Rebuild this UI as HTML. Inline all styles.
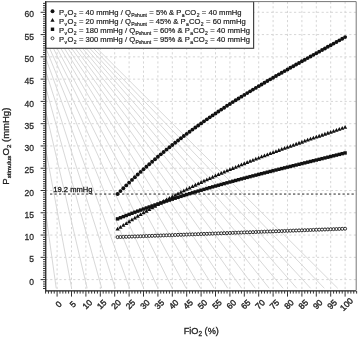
<!DOCTYPE html><html><head><meta charset="utf-8"><style>html,body{margin:0;padding:0;background:#fff;width:358px;height:337px;overflow:hidden}svg{display:block;will-change:transform}text{font-family:"Liberation Sans",sans-serif;stroke-width:.3px}</style></head><body>
<svg width="358" height="337" viewBox="0 0 358 337">
<rect width="358" height="337" fill="#fff"/>
<defs><clipPath id="pc"><rect x="45.6" y="1.6" width="310.59999999999997" height="288.79999999999995"/></clipPath></defs>
<path d="M57.10 1.6V290.4 M71.50 1.6V290.4 M85.90 1.6V290.4 M100.30 1.6V290.4 M114.70 1.6V290.4 M129.10 1.6V290.4 M143.50 1.6V290.4 M157.90 1.6V290.4 M172.30 1.6V290.4 M186.70 1.6V290.4 M201.10 1.6V290.4 M215.50 1.6V290.4 M229.90 1.6V290.4 M244.30 1.6V290.4 M258.70 1.6V290.4 M273.10 1.6V290.4 M287.50 1.6V290.4 M301.90 1.6V290.4 M316.30 1.6V290.4 M330.70 1.6V290.4 M345.10 1.6V290.4 M45.6 279.60H356.2 M45.6 257.33H356.2 M45.6 235.05H356.2 M45.6 212.78H356.2 M45.6 190.50H356.2 M45.6 168.23H356.2 M45.6 145.95H356.2 M45.6 123.68H356.2 M45.6 101.40H356.2 M45.6 79.13H356.2 M45.6 56.85H356.2 M45.6 34.58H356.2 M45.6 12.30H356.2" stroke="#d6d6d6" stroke-width="1" stroke-dasharray="2.2 2.4" fill="none"/>
<g clip-path="url(#pc)"><path d="M10.9 -37.4L56.21 288.3 M10.9 -37.4L71.62 288.3 M10.9 -37.4L87.14 288.3 M10.9 -37.4L101.73 288.3 M10.9 -37.4L115.29 288.3 M10.9 -37.4L129.67 288.3 M10.9 -37.4L143.75 288.3 M10.9 -37.4L157.93 288.3 M10.9 -37.4L172.31 288.3 M10.9 -37.4L186.18 288.3 M10.9 -37.4L200.57 288.3 M10.9 -37.4L214.13 288.3 M10.9 -37.4L227.79 288.3 M10.9 -37.4L241.66 288.3 M10.9 -37.4L255.23 288.3 M10.9 -37.4L269.20 288.3 M10.9 -37.4L283.07 288.3 M10.9 -37.4L296.84 288.3 M10.9 -37.4L310.61 288.3 M10.9 -37.4L324.37 288.3 M10.9 -37.4L337.73 288.3" stroke="#d6d6d6" stroke-width="0.95" fill="none"/></g>
<path d="M50.0 194.06H356.2" stroke="#262626" stroke-width="1" stroke-dasharray="2.3 2.2" fill="none"/>
<text x="53.3" y="191.6" font-size="7.6" fill="#222" stroke="#222">19.2 mmHg</text>
<circle cx="117.58" cy="237.10" r="1.5" fill="#fff" stroke="#222" stroke-width="0.95"/><circle cx="120.46" cy="236.99" r="1.5" fill="#fff" stroke="#222" stroke-width="0.95"/><circle cx="123.34" cy="236.89" r="1.5" fill="#fff" stroke="#222" stroke-width="0.95"/><circle cx="126.22" cy="236.78" r="1.5" fill="#fff" stroke="#222" stroke-width="0.95"/><circle cx="129.10" cy="236.68" r="1.5" fill="#fff" stroke="#222" stroke-width="0.95"/><circle cx="131.98" cy="236.57" r="1.5" fill="#fff" stroke="#222" stroke-width="0.95"/><circle cx="134.86" cy="236.46" r="1.5" fill="#fff" stroke="#222" stroke-width="0.95"/><circle cx="137.74" cy="236.36" r="1.5" fill="#fff" stroke="#222" stroke-width="0.95"/><circle cx="140.62" cy="236.25" r="1.5" fill="#fff" stroke="#222" stroke-width="0.95"/><circle cx="143.50" cy="236.15" r="1.5" fill="#fff" stroke="#222" stroke-width="0.95"/><circle cx="146.38" cy="236.04" r="1.5" fill="#fff" stroke="#222" stroke-width="0.95"/><circle cx="149.26" cy="235.93" r="1.5" fill="#fff" stroke="#222" stroke-width="0.95"/><circle cx="152.14" cy="235.83" r="1.5" fill="#fff" stroke="#222" stroke-width="0.95"/><circle cx="155.02" cy="235.72" r="1.5" fill="#fff" stroke="#222" stroke-width="0.95"/><circle cx="157.90" cy="235.62" r="1.5" fill="#fff" stroke="#222" stroke-width="0.95"/><circle cx="160.78" cy="235.51" r="1.5" fill="#fff" stroke="#222" stroke-width="0.95"/><circle cx="163.66" cy="235.40" r="1.5" fill="#fff" stroke="#222" stroke-width="0.95"/><circle cx="166.54" cy="235.30" r="1.5" fill="#fff" stroke="#222" stroke-width="0.95"/><circle cx="169.42" cy="235.19" r="1.5" fill="#fff" stroke="#222" stroke-width="0.95"/><circle cx="172.30" cy="235.09" r="1.5" fill="#fff" stroke="#222" stroke-width="0.95"/><circle cx="175.18" cy="234.98" r="1.5" fill="#fff" stroke="#222" stroke-width="0.95"/><circle cx="178.06" cy="234.87" r="1.5" fill="#fff" stroke="#222" stroke-width="0.95"/><circle cx="180.94" cy="234.77" r="1.5" fill="#fff" stroke="#222" stroke-width="0.95"/><circle cx="183.82" cy="234.66" r="1.5" fill="#fff" stroke="#222" stroke-width="0.95"/><circle cx="186.70" cy="234.56" r="1.5" fill="#fff" stroke="#222" stroke-width="0.95"/><circle cx="189.58" cy="234.45" r="1.5" fill="#fff" stroke="#222" stroke-width="0.95"/><circle cx="192.46" cy="234.34" r="1.5" fill="#fff" stroke="#222" stroke-width="0.95"/><circle cx="195.34" cy="234.24" r="1.5" fill="#fff" stroke="#222" stroke-width="0.95"/><circle cx="198.22" cy="234.13" r="1.5" fill="#fff" stroke="#222" stroke-width="0.95"/><circle cx="201.10" cy="234.03" r="1.5" fill="#fff" stroke="#222" stroke-width="0.95"/><circle cx="203.98" cy="233.92" r="1.5" fill="#fff" stroke="#222" stroke-width="0.95"/><circle cx="206.86" cy="233.81" r="1.5" fill="#fff" stroke="#222" stroke-width="0.95"/><circle cx="209.74" cy="233.71" r="1.5" fill="#fff" stroke="#222" stroke-width="0.95"/><circle cx="212.62" cy="233.60" r="1.5" fill="#fff" stroke="#222" stroke-width="0.95"/><circle cx="215.50" cy="233.50" r="1.5" fill="#fff" stroke="#222" stroke-width="0.95"/><circle cx="218.38" cy="233.39" r="1.5" fill="#fff" stroke="#222" stroke-width="0.95"/><circle cx="221.26" cy="233.28" r="1.5" fill="#fff" stroke="#222" stroke-width="0.95"/><circle cx="224.14" cy="233.18" r="1.5" fill="#fff" stroke="#222" stroke-width="0.95"/><circle cx="227.02" cy="233.07" r="1.5" fill="#fff" stroke="#222" stroke-width="0.95"/><circle cx="229.90" cy="232.97" r="1.5" fill="#fff" stroke="#222" stroke-width="0.95"/><circle cx="232.78" cy="232.86" r="1.5" fill="#fff" stroke="#222" stroke-width="0.95"/><circle cx="235.66" cy="232.75" r="1.5" fill="#fff" stroke="#222" stroke-width="0.95"/><circle cx="238.54" cy="232.65" r="1.5" fill="#fff" stroke="#222" stroke-width="0.95"/><circle cx="241.42" cy="232.54" r="1.5" fill="#fff" stroke="#222" stroke-width="0.95"/><circle cx="244.30" cy="232.43" r="1.5" fill="#fff" stroke="#222" stroke-width="0.95"/><circle cx="247.18" cy="232.33" r="1.5" fill="#fff" stroke="#222" stroke-width="0.95"/><circle cx="250.06" cy="232.22" r="1.5" fill="#fff" stroke="#222" stroke-width="0.95"/><circle cx="252.94" cy="232.12" r="1.5" fill="#fff" stroke="#222" stroke-width="0.95"/><circle cx="255.82" cy="232.01" r="1.5" fill="#fff" stroke="#222" stroke-width="0.95"/><circle cx="258.70" cy="231.90" r="1.5" fill="#fff" stroke="#222" stroke-width="0.95"/><circle cx="261.58" cy="231.80" r="1.5" fill="#fff" stroke="#222" stroke-width="0.95"/><circle cx="264.46" cy="231.69" r="1.5" fill="#fff" stroke="#222" stroke-width="0.95"/><circle cx="267.34" cy="231.59" r="1.5" fill="#fff" stroke="#222" stroke-width="0.95"/><circle cx="270.22" cy="231.48" r="1.5" fill="#fff" stroke="#222" stroke-width="0.95"/><circle cx="273.10" cy="231.37" r="1.5" fill="#fff" stroke="#222" stroke-width="0.95"/><circle cx="275.98" cy="231.27" r="1.5" fill="#fff" stroke="#222" stroke-width="0.95"/><circle cx="278.86" cy="231.16" r="1.5" fill="#fff" stroke="#222" stroke-width="0.95"/><circle cx="281.74" cy="231.06" r="1.5" fill="#fff" stroke="#222" stroke-width="0.95"/><circle cx="284.62" cy="230.95" r="1.5" fill="#fff" stroke="#222" stroke-width="0.95"/><circle cx="287.50" cy="230.84" r="1.5" fill="#fff" stroke="#222" stroke-width="0.95"/><circle cx="290.38" cy="230.74" r="1.5" fill="#fff" stroke="#222" stroke-width="0.95"/><circle cx="293.26" cy="230.63" r="1.5" fill="#fff" stroke="#222" stroke-width="0.95"/><circle cx="296.14" cy="230.53" r="1.5" fill="#fff" stroke="#222" stroke-width="0.95"/><circle cx="299.02" cy="230.42" r="1.5" fill="#fff" stroke="#222" stroke-width="0.95"/><circle cx="301.90" cy="230.31" r="1.5" fill="#fff" stroke="#222" stroke-width="0.95"/><circle cx="304.78" cy="230.21" r="1.5" fill="#fff" stroke="#222" stroke-width="0.95"/><circle cx="307.66" cy="230.10" r="1.5" fill="#fff" stroke="#222" stroke-width="0.95"/><circle cx="310.54" cy="230.00" r="1.5" fill="#fff" stroke="#222" stroke-width="0.95"/><circle cx="313.42" cy="229.89" r="1.5" fill="#fff" stroke="#222" stroke-width="0.95"/><circle cx="316.30" cy="229.78" r="1.5" fill="#fff" stroke="#222" stroke-width="0.95"/><circle cx="319.18" cy="229.68" r="1.5" fill="#fff" stroke="#222" stroke-width="0.95"/><circle cx="322.06" cy="229.57" r="1.5" fill="#fff" stroke="#222" stroke-width="0.95"/><circle cx="324.94" cy="229.47" r="1.5" fill="#fff" stroke="#222" stroke-width="0.95"/><circle cx="327.82" cy="229.36" r="1.5" fill="#fff" stroke="#222" stroke-width="0.95"/><circle cx="330.70" cy="229.25" r="1.5" fill="#fff" stroke="#222" stroke-width="0.95"/><circle cx="333.58" cy="229.15" r="1.5" fill="#fff" stroke="#222" stroke-width="0.95"/><circle cx="336.46" cy="229.04" r="1.5" fill="#fff" stroke="#222" stroke-width="0.95"/><circle cx="339.34" cy="228.94" r="1.5" fill="#fff" stroke="#222" stroke-width="0.95"/><circle cx="342.22" cy="228.83" r="1.5" fill="#fff" stroke="#222" stroke-width="0.95"/><circle cx="345.10" cy="228.72" r="1.5" fill="#fff" stroke="#222" stroke-width="0.95"/><rect x="115.88" y="217.19" width="3.4" height="3.4" fill="#111"/><rect x="118.76" y="216.05" width="3.4" height="3.4" fill="#111"/><rect x="121.64" y="214.92" width="3.4" height="3.4" fill="#111"/><rect x="124.52" y="213.80" width="3.4" height="3.4" fill="#111"/><rect x="127.40" y="212.69" width="3.4" height="3.4" fill="#111"/><rect x="130.28" y="211.59" width="3.4" height="3.4" fill="#111"/><rect x="133.16" y="210.51" width="3.4" height="3.4" fill="#111"/><rect x="136.04" y="209.44" width="3.4" height="3.4" fill="#111"/><rect x="138.92" y="208.38" width="3.4" height="3.4" fill="#111"/><rect x="141.80" y="207.33" width="3.4" height="3.4" fill="#111"/><rect x="144.68" y="206.30" width="3.4" height="3.4" fill="#111"/><rect x="147.56" y="205.27" width="3.4" height="3.4" fill="#111"/><rect x="150.44" y="204.26" width="3.4" height="3.4" fill="#111"/><rect x="153.32" y="203.26" width="3.4" height="3.4" fill="#111"/><rect x="156.20" y="202.26" width="3.4" height="3.4" fill="#111"/><rect x="159.08" y="201.28" width="3.4" height="3.4" fill="#111"/><rect x="161.96" y="200.31" width="3.4" height="3.4" fill="#111"/><rect x="164.84" y="199.35" width="3.4" height="3.4" fill="#111"/><rect x="167.72" y="198.40" width="3.4" height="3.4" fill="#111"/><rect x="170.60" y="197.45" width="3.4" height="3.4" fill="#111"/><rect x="173.48" y="196.52" width="3.4" height="3.4" fill="#111"/><rect x="176.36" y="195.60" width="3.4" height="3.4" fill="#111"/><rect x="179.24" y="194.68" width="3.4" height="3.4" fill="#111"/><rect x="182.12" y="193.78" width="3.4" height="3.4" fill="#111"/><rect x="185.00" y="192.88" width="3.4" height="3.4" fill="#111"/><rect x="187.88" y="191.99" width="3.4" height="3.4" fill="#111"/><rect x="190.76" y="191.11" width="3.4" height="3.4" fill="#111"/><rect x="193.64" y="190.24" width="3.4" height="3.4" fill="#111"/><rect x="196.52" y="189.37" width="3.4" height="3.4" fill="#111"/><rect x="199.40" y="188.52" width="3.4" height="3.4" fill="#111"/><rect x="202.28" y="187.67" width="3.4" height="3.4" fill="#111"/><rect x="205.16" y="186.82" width="3.4" height="3.4" fill="#111"/><rect x="208.04" y="185.99" width="3.4" height="3.4" fill="#111"/><rect x="210.92" y="185.16" width="3.4" height="3.4" fill="#111"/><rect x="213.80" y="184.34" width="3.4" height="3.4" fill="#111"/><rect x="216.68" y="183.53" width="3.4" height="3.4" fill="#111"/><rect x="219.56" y="182.72" width="3.4" height="3.4" fill="#111"/><rect x="222.44" y="181.92" width="3.4" height="3.4" fill="#111"/><rect x="225.32" y="181.12" width="3.4" height="3.4" fill="#111"/><rect x="228.20" y="180.33" width="3.4" height="3.4" fill="#111"/><rect x="231.08" y="179.55" width="3.4" height="3.4" fill="#111"/><rect x="233.96" y="178.77" width="3.4" height="3.4" fill="#111"/><rect x="236.84" y="177.99" width="3.4" height="3.4" fill="#111"/><rect x="239.72" y="177.22" width="3.4" height="3.4" fill="#111"/><rect x="242.60" y="176.46" width="3.4" height="3.4" fill="#111"/><rect x="245.48" y="175.70" width="3.4" height="3.4" fill="#111"/><rect x="248.36" y="174.94" width="3.4" height="3.4" fill="#111"/><rect x="251.24" y="174.19" width="3.4" height="3.4" fill="#111"/><rect x="254.12" y="173.45" width="3.4" height="3.4" fill="#111"/><rect x="257.00" y="172.70" width="3.4" height="3.4" fill="#111"/><rect x="259.88" y="171.96" width="3.4" height="3.4" fill="#111"/><rect x="262.76" y="171.23" width="3.4" height="3.4" fill="#111"/><rect x="265.64" y="170.49" width="3.4" height="3.4" fill="#111"/><rect x="268.52" y="169.77" width="3.4" height="3.4" fill="#111"/><rect x="271.40" y="169.04" width="3.4" height="3.4" fill="#111"/><rect x="274.28" y="168.31" width="3.4" height="3.4" fill="#111"/><rect x="277.16" y="167.59" width="3.4" height="3.4" fill="#111"/><rect x="280.04" y="166.87" width="3.4" height="3.4" fill="#111"/><rect x="282.92" y="166.16" width="3.4" height="3.4" fill="#111"/><rect x="285.80" y="165.44" width="3.4" height="3.4" fill="#111"/><rect x="288.68" y="164.73" width="3.4" height="3.4" fill="#111"/><rect x="291.56" y="164.02" width="3.4" height="3.4" fill="#111"/><rect x="294.44" y="163.31" width="3.4" height="3.4" fill="#111"/><rect x="297.32" y="162.60" width="3.4" height="3.4" fill="#111"/><rect x="300.20" y="161.89" width="3.4" height="3.4" fill="#111"/><rect x="303.08" y="161.18" width="3.4" height="3.4" fill="#111"/><rect x="305.96" y="160.47" width="3.4" height="3.4" fill="#111"/><rect x="308.84" y="159.77" width="3.4" height="3.4" fill="#111"/><rect x="311.72" y="159.06" width="3.4" height="3.4" fill="#111"/><rect x="314.60" y="158.35" width="3.4" height="3.4" fill="#111"/><rect x="317.48" y="157.65" width="3.4" height="3.4" fill="#111"/><rect x="320.36" y="156.94" width="3.4" height="3.4" fill="#111"/><rect x="323.24" y="156.23" width="3.4" height="3.4" fill="#111"/><rect x="326.12" y="155.52" width="3.4" height="3.4" fill="#111"/><rect x="329.00" y="154.81" width="3.4" height="3.4" fill="#111"/><rect x="331.88" y="154.10" width="3.4" height="3.4" fill="#111"/><rect x="334.76" y="153.39" width="3.4" height="3.4" fill="#111"/><rect x="337.64" y="152.68" width="3.4" height="3.4" fill="#111"/><rect x="340.52" y="151.96" width="3.4" height="3.4" fill="#111"/><rect x="343.40" y="151.24" width="3.4" height="3.4" fill="#111"/><path d="M117.58 226.82L119.68 230.62L115.48 230.62Z" fill="#111"/><path d="M120.46 224.91L122.56 228.71L118.36 228.71Z" fill="#111"/><path d="M123.34 223.04L125.44 226.84L121.24 226.84Z" fill="#111"/><path d="M126.22 221.18L128.32 224.98L124.12 224.98Z" fill="#111"/><path d="M129.10 219.35L131.20 223.15L127.00 223.15Z" fill="#111"/><path d="M131.98 217.55L134.08 221.35L129.88 221.35Z" fill="#111"/><path d="M134.86 215.76L136.96 219.56L132.76 219.56Z" fill="#111"/><path d="M137.74 213.99L139.84 217.79L135.64 217.79Z" fill="#111"/><path d="M140.62 212.25L142.72 216.05L138.52 216.05Z" fill="#111"/><path d="M143.50 210.53L145.60 214.33L141.40 214.33Z" fill="#111"/><path d="M146.38 208.83L148.48 212.63L144.28 212.63Z" fill="#111"/><path d="M149.26 207.15L151.36 210.95L147.16 210.95Z" fill="#111"/><path d="M152.14 205.49L154.24 209.29L150.04 209.29Z" fill="#111"/><path d="M155.02 203.85L157.12 207.65L152.92 207.65Z" fill="#111"/><path d="M157.90 202.23L160.00 206.03L155.80 206.03Z" fill="#111"/><path d="M160.78 200.63L162.88 204.43L158.68 204.43Z" fill="#111"/><path d="M163.66 199.05L165.76 202.85L161.56 202.85Z" fill="#111"/><path d="M166.54 197.49L168.64 201.29L164.44 201.29Z" fill="#111"/><path d="M169.42 195.95L171.52 199.75L167.32 199.75Z" fill="#111"/><path d="M172.30 194.42L174.40 198.22L170.20 198.22Z" fill="#111"/><path d="M175.18 192.92L177.28 196.72L173.08 196.72Z" fill="#111"/><path d="M178.06 191.43L180.16 195.23L175.96 195.23Z" fill="#111"/><path d="M180.94 189.95L183.04 193.75L178.84 193.75Z" fill="#111"/><path d="M183.82 188.50L185.92 192.30L181.72 192.30Z" fill="#111"/><path d="M186.70 187.06L188.80 190.86L184.60 190.86Z" fill="#111"/><path d="M189.58 185.64L191.68 189.44L187.48 189.44Z" fill="#111"/><path d="M192.46 184.24L194.56 188.04L190.36 188.04Z" fill="#111"/><path d="M195.34 182.85L197.44 186.65L193.24 186.65Z" fill="#111"/><path d="M198.22 181.47L200.32 185.27L196.12 185.27Z" fill="#111"/><path d="M201.10 180.11L203.20 183.91L199.00 183.91Z" fill="#111"/><path d="M203.98 178.77L206.08 182.57L201.88 182.57Z" fill="#111"/><path d="M206.86 177.44L208.96 181.24L204.76 181.24Z" fill="#111"/><path d="M209.74 176.13L211.84 179.93L207.64 179.93Z" fill="#111"/><path d="M212.62 174.83L214.72 178.63L210.52 178.63Z" fill="#111"/><path d="M215.50 173.54L217.60 177.34L213.40 177.34Z" fill="#111"/><path d="M218.38 172.27L220.48 176.07L216.28 176.07Z" fill="#111"/><path d="M221.26 171.01L223.36 174.81L219.16 174.81Z" fill="#111"/><path d="M224.14 169.76L226.24 173.56L222.04 173.56Z" fill="#111"/><path d="M227.02 168.52L229.12 172.32L224.92 172.32Z" fill="#111"/><path d="M229.90 167.30L232.00 171.10L227.80 171.10Z" fill="#111"/><path d="M232.78 166.09L234.88 169.89L230.68 169.89Z" fill="#111"/><path d="M235.66 164.89L237.76 168.69L233.56 168.69Z" fill="#111"/><path d="M238.54 163.70L240.64 167.50L236.44 167.50Z" fill="#111"/><path d="M241.42 162.53L243.52 166.33L239.32 166.33Z" fill="#111"/><path d="M244.30 161.36L246.40 165.16L242.20 165.16Z" fill="#111"/><path d="M247.18 160.21L249.28 164.01L245.08 164.01Z" fill="#111"/><path d="M250.06 159.06L252.16 162.86L247.96 162.86Z" fill="#111"/><path d="M252.94 157.92L255.04 161.72L250.84 161.72Z" fill="#111"/><path d="M255.82 156.80L257.92 160.60L253.72 160.60Z" fill="#111"/><path d="M258.70 155.68L260.80 159.48L256.60 159.48Z" fill="#111"/><path d="M261.58 154.57L263.68 158.37L259.48 158.37Z" fill="#111"/><path d="M264.46 153.48L266.56 157.28L262.36 157.28Z" fill="#111"/><path d="M267.34 152.38L269.44 156.18L265.24 156.18Z" fill="#111"/><path d="M270.22 151.30L272.32 155.10L268.12 155.10Z" fill="#111"/><path d="M273.10 150.23L275.20 154.03L271.00 154.03Z" fill="#111"/><path d="M275.98 149.16L278.08 152.96L273.88 152.96Z" fill="#111"/><path d="M278.86 148.10L280.96 151.90L276.76 151.90Z" fill="#111"/><path d="M281.74 147.04L283.84 150.84L279.64 150.84Z" fill="#111"/><path d="M284.62 146.00L286.72 149.80L282.52 149.80Z" fill="#111"/><path d="M287.50 144.96L289.60 148.76L285.40 148.76Z" fill="#111"/><path d="M290.38 143.92L292.48 147.72L288.28 147.72Z" fill="#111"/><path d="M293.26 142.89L295.36 146.69L291.16 146.69Z" fill="#111"/><path d="M296.14 141.87L298.24 145.67L294.04 145.67Z" fill="#111"/><path d="M299.02 140.85L301.12 144.65L296.92 144.65Z" fill="#111"/><path d="M301.90 139.83L304.00 143.63L299.80 143.63Z" fill="#111"/><path d="M304.78 138.82L306.88 142.62L302.68 142.62Z" fill="#111"/><path d="M307.66 137.82L309.76 141.62L305.56 141.62Z" fill="#111"/><path d="M310.54 136.82L312.64 140.62L308.44 140.62Z" fill="#111"/><path d="M313.42 135.82L315.52 139.62L311.32 139.62Z" fill="#111"/><path d="M316.30 134.82L318.40 138.62L314.20 138.62Z" fill="#111"/><path d="M319.18 133.83L321.28 137.63L317.08 137.63Z" fill="#111"/><path d="M322.06 132.84L324.16 136.64L319.96 136.64Z" fill="#111"/><path d="M324.94 131.85L327.04 135.65L322.84 135.65Z" fill="#111"/><path d="M327.82 130.87L329.92 134.67L325.72 134.67Z" fill="#111"/><path d="M330.70 129.88L332.80 133.68L328.60 133.68Z" fill="#111"/><path d="M333.58 128.90L335.68 132.70L331.48 132.70Z" fill="#111"/><path d="M336.46 127.92L338.56 131.72L334.36 131.72Z" fill="#111"/><path d="M339.34 126.94L341.44 130.74L337.24 130.74Z" fill="#111"/><path d="M342.22 125.96L344.32 129.76L340.12 129.76Z" fill="#111"/><path d="M345.10 124.98L347.20 128.78L343.00 128.78Z" fill="#111"/><circle cx="117.58" cy="193.96" r="1.95" fill="#111"/><circle cx="120.46" cy="191.08" r="1.95" fill="#111"/><circle cx="123.34" cy="188.23" r="1.95" fill="#111"/><circle cx="126.22" cy="185.42" r="1.95" fill="#111"/><circle cx="129.10" cy="182.65" r="1.95" fill="#111"/><circle cx="131.98" cy="179.91" r="1.95" fill="#111"/><circle cx="134.86" cy="177.21" r="1.95" fill="#111"/><circle cx="137.74" cy="174.54" r="1.95" fill="#111"/><circle cx="140.62" cy="171.90" r="1.95" fill="#111"/><circle cx="143.50" cy="169.30" r="1.95" fill="#111"/><circle cx="146.38" cy="166.73" r="1.95" fill="#111"/><circle cx="149.26" cy="164.19" r="1.95" fill="#111"/><circle cx="152.14" cy="161.68" r="1.95" fill="#111"/><circle cx="155.02" cy="159.21" r="1.95" fill="#111"/><circle cx="157.90" cy="156.76" r="1.95" fill="#111"/><circle cx="160.78" cy="154.35" r="1.95" fill="#111"/><circle cx="163.66" cy="151.96" r="1.95" fill="#111"/><circle cx="166.54" cy="149.61" r="1.95" fill="#111"/><circle cx="169.42" cy="147.28" r="1.95" fill="#111"/><circle cx="172.30" cy="144.98" r="1.95" fill="#111"/><circle cx="175.18" cy="142.71" r="1.95" fill="#111"/><circle cx="178.06" cy="140.46" r="1.95" fill="#111"/><circle cx="180.94" cy="138.24" r="1.95" fill="#111"/><circle cx="183.82" cy="136.04" r="1.95" fill="#111"/><circle cx="186.70" cy="133.87" r="1.95" fill="#111"/><circle cx="189.58" cy="131.73" r="1.95" fill="#111"/><circle cx="192.46" cy="129.61" r="1.95" fill="#111"/><circle cx="195.34" cy="127.51" r="1.95" fill="#111"/><circle cx="198.22" cy="125.43" r="1.95" fill="#111"/><circle cx="201.10" cy="123.38" r="1.95" fill="#111"/><circle cx="203.98" cy="121.35" r="1.95" fill="#111"/><circle cx="206.86" cy="119.34" r="1.95" fill="#111"/><circle cx="209.74" cy="117.35" r="1.95" fill="#111"/><circle cx="212.62" cy="115.38" r="1.95" fill="#111"/><circle cx="215.50" cy="113.43" r="1.95" fill="#111"/><circle cx="218.38" cy="111.50" r="1.95" fill="#111"/><circle cx="221.26" cy="109.58" r="1.95" fill="#111"/><circle cx="224.14" cy="107.69" r="1.95" fill="#111"/><circle cx="227.02" cy="105.81" r="1.95" fill="#111"/><circle cx="229.90" cy="103.95" r="1.95" fill="#111"/><circle cx="232.78" cy="102.11" r="1.95" fill="#111"/><circle cx="235.66" cy="100.28" r="1.95" fill="#111"/><circle cx="238.54" cy="98.47" r="1.95" fill="#111"/><circle cx="241.42" cy="96.67" r="1.95" fill="#111"/><circle cx="244.30" cy="94.88" r="1.95" fill="#111"/><circle cx="247.18" cy="93.11" r="1.95" fill="#111"/><circle cx="250.06" cy="91.35" r="1.95" fill="#111"/><circle cx="252.94" cy="89.61" r="1.95" fill="#111"/><circle cx="255.82" cy="87.88" r="1.95" fill="#111"/><circle cx="258.70" cy="86.15" r="1.95" fill="#111"/><circle cx="261.58" cy="84.44" r="1.95" fill="#111"/><circle cx="264.46" cy="82.74" r="1.95" fill="#111"/><circle cx="267.34" cy="81.05" r="1.95" fill="#111"/><circle cx="270.22" cy="79.37" r="1.95" fill="#111"/><circle cx="273.10" cy="77.70" r="1.95" fill="#111"/><circle cx="275.98" cy="76.03" r="1.95" fill="#111"/><circle cx="278.86" cy="74.37" r="1.95" fill="#111"/><circle cx="281.74" cy="72.72" r="1.95" fill="#111"/><circle cx="284.62" cy="71.08" r="1.95" fill="#111"/><circle cx="287.50" cy="69.44" r="1.95" fill="#111"/><circle cx="290.38" cy="67.81" r="1.95" fill="#111"/><circle cx="293.26" cy="66.18" r="1.95" fill="#111"/><circle cx="296.14" cy="64.56" r="1.95" fill="#111"/><circle cx="299.02" cy="62.94" r="1.95" fill="#111"/><circle cx="301.90" cy="61.32" r="1.95" fill="#111"/><circle cx="304.78" cy="59.71" r="1.95" fill="#111"/><circle cx="307.66" cy="58.09" r="1.95" fill="#111"/><circle cx="310.54" cy="56.48" r="1.95" fill="#111"/><circle cx="313.42" cy="54.87" r="1.95" fill="#111"/><circle cx="316.30" cy="53.27" r="1.95" fill="#111"/><circle cx="319.18" cy="51.66" r="1.95" fill="#111"/><circle cx="322.06" cy="50.05" r="1.95" fill="#111"/><circle cx="324.94" cy="48.44" r="1.95" fill="#111"/><circle cx="327.82" cy="46.82" r="1.95" fill="#111"/><circle cx="330.70" cy="45.21" r="1.95" fill="#111"/><circle cx="333.58" cy="43.59" r="1.95" fill="#111"/><circle cx="336.46" cy="41.97" r="1.95" fill="#111"/><circle cx="339.34" cy="40.35" r="1.95" fill="#111"/><circle cx="342.22" cy="38.72" r="1.95" fill="#111"/><circle cx="345.10" cy="37.08" r="1.95" fill="#111"/>
<rect x="45.6" y="1.6" width="208.0" height="46.699999999999996" fill="#fff" stroke="#444" stroke-width="1.2"/>
<circle cx="52.5" cy="11.20" r="1.95" fill="#111"/>
<text x="59.1" y="14.70" font-size="7.6" fill="#222" stroke="#222" style="stroke-width:0.2px" textLength="182.4" lengthAdjust="spacingAndGlyphs">P<tspan font-size="5.0" dy="2.5" dx="0.4">v</tspan><tspan dy="-2.5" dx="0.3">O</tspan><tspan font-size="5.0" dy="2.5" dx="0.4">2</tspan><tspan dy="-2.5" dx="0.3"> = 40 mmHg / Q</tspan><tspan font-size="5.0" dy="2.5" dx="0.4">Pshunt</tspan><tspan dy="-2.5" dx="0.3"> = 5% &amp; P</tspan><tspan font-size="5.0" dy="2.5" dx="0.4">a</tspan><tspan dy="-2.5" dx="0.3">CO</tspan><tspan font-size="5.0" dy="2.5" dx="0.4">2</tspan><tspan dy="-2.5" dx="0.3"> = 40 mmHg</tspan></text>
<path d="M52.5 18.03L54.6 21.73L50.4 21.73Z" fill="#111"/>
<text x="59.1" y="23.73" font-size="7.6" fill="#222" stroke="#222" style="stroke-width:0.2px" textLength="186.6" lengthAdjust="spacingAndGlyphs">P<tspan font-size="5.0" dy="2.5" dx="0.4">v</tspan><tspan dy="-2.5" dx="0.3">O</tspan><tspan font-size="5.0" dy="2.5" dx="0.4">2</tspan><tspan dy="-2.5" dx="0.3"> = 20 mmHg / Q</tspan><tspan font-size="5.0" dy="2.5" dx="0.4">Pshunt</tspan><tspan dy="-2.5" dx="0.3"> = 45% &amp; P</tspan><tspan font-size="5.0" dy="2.5" dx="0.4">a</tspan><tspan dy="-2.5" dx="0.3">CO</tspan><tspan font-size="5.0" dy="2.5" dx="0.4">2</tspan><tspan dy="-2.5" dx="0.3"> = 60 mmHg</tspan></text>
<rect x="50.8" y="27.56" width="3.4" height="3.4" fill="#111"/>
<text x="59.1" y="32.76" font-size="7.6" fill="#222" stroke="#222" style="stroke-width:0.2px" textLength="190.8" lengthAdjust="spacingAndGlyphs">P<tspan font-size="5.0" dy="2.5" dx="0.4">v</tspan><tspan dy="-2.5" dx="0.3">O</tspan><tspan font-size="5.0" dy="2.5" dx="0.4">2</tspan><tspan dy="-2.5" dx="0.3"> = 180 mmHg / Q</tspan><tspan font-size="5.0" dy="2.5" dx="0.4">Pshunt</tspan><tspan dy="-2.5" dx="0.3"> = 60% &amp; P</tspan><tspan font-size="5.0" dy="2.5" dx="0.4">a</tspan><tspan dy="-2.5" dx="0.3">CO</tspan><tspan font-size="5.0" dy="2.5" dx="0.4">2</tspan><tspan dy="-2.5" dx="0.3"> = 40 mmHg</tspan></text>
<circle cx="52.5" cy="38.29" r="1.45" fill="#fff" stroke="#222" stroke-width="0.9"/>
<text x="59.1" y="41.79" font-size="7.6" fill="#222" stroke="#222" style="stroke-width:0.2px" textLength="190.8" lengthAdjust="spacingAndGlyphs">P<tspan font-size="5.0" dy="2.5" dx="0.4">v</tspan><tspan dy="-2.5" dx="0.3">O</tspan><tspan font-size="5.0" dy="2.5" dx="0.4">2</tspan><tspan dy="-2.5" dx="0.3"> = 300 mmHg / Q</tspan><tspan font-size="5.0" dy="2.5" dx="0.4">Pshunt</tspan><tspan dy="-2.5" dx="0.3"> = 95% &amp; P</tspan><tspan font-size="5.0" dy="2.5" dx="0.4">a</tspan><tspan dy="-2.5" dx="0.3">CO</tspan><tspan font-size="5.0" dy="2.5" dx="0.4">2</tspan><tspan dy="-2.5" dx="0.3"> = 40 mmHg</tspan></text>
<path d="M45.6 1.6H356.2V290.4" stroke="#777" stroke-width="1" fill="none"/>
<path d="M45.75 1.6V290.9H356.2" stroke="#1e1e1e" stroke-width="1.25" fill="none"/>
<path d="M45.58 291.0v2.6 M48.46 291.0v2.6 M51.34 291.0v2.6 M54.22 291.0v2.6 M57.10 291.0v5.6 M59.98 291.0v2.6 M62.86 291.0v2.6 M65.74 291.0v2.6 M68.62 291.0v2.6 M71.50 291.0v5.6 M74.38 291.0v2.6 M77.26 291.0v2.6 M80.14 291.0v2.6 M83.02 291.0v2.6 M85.90 291.0v5.6 M88.78 291.0v2.6 M91.66 291.0v2.6 M94.54 291.0v2.6 M97.42 291.0v2.6 M100.30 291.0v5.6 M103.18 291.0v2.6 M106.06 291.0v2.6 M108.94 291.0v2.6 M111.82 291.0v2.6 M114.70 291.0v5.6 M117.58 291.0v2.6 M120.46 291.0v2.6 M123.34 291.0v2.6 M126.22 291.0v2.6 M129.10 291.0v5.6 M131.98 291.0v2.6 M134.86 291.0v2.6 M137.74 291.0v2.6 M140.62 291.0v2.6 M143.50 291.0v5.6 M146.38 291.0v2.6 M149.26 291.0v2.6 M152.14 291.0v2.6 M155.02 291.0v2.6 M157.90 291.0v5.6 M160.78 291.0v2.6 M163.66 291.0v2.6 M166.54 291.0v2.6 M169.42 291.0v2.6 M172.30 291.0v5.6 M175.18 291.0v2.6 M178.06 291.0v2.6 M180.94 291.0v2.6 M183.82 291.0v2.6 M186.70 291.0v5.6 M189.58 291.0v2.6 M192.46 291.0v2.6 M195.34 291.0v2.6 M198.22 291.0v2.6 M201.10 291.0v5.6 M203.98 291.0v2.6 M206.86 291.0v2.6 M209.74 291.0v2.6 M212.62 291.0v2.6 M215.50 291.0v5.6 M218.38 291.0v2.6 M221.26 291.0v2.6 M224.14 291.0v2.6 M227.02 291.0v2.6 M229.90 291.0v5.6 M232.78 291.0v2.6 M235.66 291.0v2.6 M238.54 291.0v2.6 M241.42 291.0v2.6 M244.30 291.0v5.6 M247.18 291.0v2.6 M250.06 291.0v2.6 M252.94 291.0v2.6 M255.82 291.0v2.6 M258.70 291.0v5.6 M261.58 291.0v2.6 M264.46 291.0v2.6 M267.34 291.0v2.6 M270.22 291.0v2.6 M273.10 291.0v5.6 M275.98 291.0v2.6 M278.86 291.0v2.6 M281.74 291.0v2.6 M284.62 291.0v2.6 M287.50 291.0v5.6 M290.38 291.0v2.6 M293.26 291.0v2.6 M296.14 291.0v2.6 M299.02 291.0v2.6 M301.90 291.0v5.6 M304.78 291.0v2.6 M307.66 291.0v2.6 M310.54 291.0v2.6 M313.42 291.0v2.6 M316.30 291.0v5.6 M319.18 291.0v2.6 M322.06 291.0v2.6 M324.94 291.0v2.6 M327.82 291.0v2.6 M330.70 291.0v5.6 M333.58 291.0v2.6 M336.46 291.0v2.6 M339.34 291.0v2.6 M342.22 291.0v2.6 M345.10 291.0v5.6 M347.98 291.0v2.6 M350.86 291.0v2.6 M353.74 291.0v2.6 M356.62 291.0v2.6 M45.6 288.51h-2.6 M45.6 286.28h-2.6 M45.6 284.06h-2.6 M45.6 281.83h-2.6 M45.6 279.60h-5 M45.6 277.37h-2.6 M45.6 275.15h-2.6 M45.6 272.92h-2.6 M45.6 270.69h-2.6 M45.6 268.46h-2.6 M45.6 266.24h-2.6 M45.6 264.01h-2.6 M45.6 261.78h-2.6 M45.6 259.55h-2.6 M45.6 257.33h-5 M45.6 255.10h-2.6 M45.6 252.87h-2.6 M45.6 250.64h-2.6 M45.6 248.42h-2.6 M45.6 246.19h-2.6 M45.6 243.96h-2.6 M45.6 241.73h-2.6 M45.6 239.51h-2.6 M45.6 237.28h-2.6 M45.6 235.05h-5 M45.6 232.82h-2.6 M45.6 230.60h-2.6 M45.6 228.37h-2.6 M45.6 226.14h-2.6 M45.6 223.91h-2.6 M45.6 221.69h-2.6 M45.6 219.46h-2.6 M45.6 217.23h-2.6 M45.6 215.00h-2.6 M45.6 212.78h-5 M45.6 210.55h-2.6 M45.6 208.32h-2.6 M45.6 206.09h-2.6 M45.6 203.87h-2.6 M45.6 201.64h-2.6 M45.6 199.41h-2.6 M45.6 197.18h-2.6 M45.6 194.96h-2.6 M45.6 192.73h-2.6 M45.6 190.50h-5 M45.6 188.27h-2.6 M45.6 186.05h-2.6 M45.6 183.82h-2.6 M45.6 181.59h-2.6 M45.6 179.36h-2.6 M45.6 177.14h-2.6 M45.6 174.91h-2.6 M45.6 172.68h-2.6 M45.6 170.45h-2.6 M45.6 168.23h-5 M45.6 166.00h-2.6 M45.6 163.77h-2.6 M45.6 161.54h-2.6 M45.6 159.32h-2.6 M45.6 157.09h-2.6 M45.6 154.86h-2.6 M45.6 152.63h-2.6 M45.6 150.41h-2.6 M45.6 148.18h-2.6 M45.6 145.95h-5 M45.6 143.72h-2.6 M45.6 141.50h-2.6 M45.6 139.27h-2.6 M45.6 137.04h-2.6 M45.6 134.81h-2.6 M45.6 132.59h-2.6 M45.6 130.36h-2.6 M45.6 128.13h-2.6 M45.6 125.90h-2.6 M45.6 123.68h-5 M45.6 121.45h-2.6 M45.6 119.22h-2.6 M45.6 116.99h-2.6 M45.6 114.77h-2.6 M45.6 112.54h-2.6 M45.6 110.31h-2.6 M45.6 108.08h-2.6 M45.6 105.86h-2.6 M45.6 103.63h-2.6 M45.6 101.40h-5 M45.6 99.17h-2.6 M45.6 96.95h-2.6 M45.6 94.72h-2.6 M45.6 92.49h-2.6 M45.6 90.26h-2.6 M45.6 88.04h-2.6 M45.6 85.81h-2.6 M45.6 83.58h-2.6 M45.6 81.35h-2.6 M45.6 79.13h-5 M45.6 76.90h-2.6 M45.6 74.67h-2.6 M45.6 72.44h-2.6 M45.6 70.22h-2.6 M45.6 67.99h-2.6 M45.6 65.76h-2.6 M45.6 63.53h-2.6 M45.6 61.31h-2.6 M45.6 59.08h-2.6 M45.6 56.85h-5 M45.6 54.62h-2.6 M45.6 52.40h-2.6 M45.6 50.17h-2.6 M45.6 47.94h-2.6 M45.6 45.71h-2.6 M45.6 43.49h-2.6 M45.6 41.26h-2.6 M45.6 39.03h-2.6 M45.6 36.80h-2.6 M45.6 34.58h-5 M45.6 32.35h-2.6 M45.6 30.12h-2.6 M45.6 27.89h-2.6 M45.6 25.67h-2.6 M45.6 23.44h-2.6 M45.6 21.21h-2.6 M45.6 18.98h-2.6 M45.6 16.75h-2.6 M45.6 14.53h-2.6 M45.6 12.30h-5 M45.6 10.07h-2.6 M45.6 7.85h-2.6 M45.6 5.62h-2.6 M45.6 3.39h-2.6" stroke="#2a2a2a" stroke-width="0.95" fill="none"/>
<text x="34.1" y="284.75" font-size="9.8" text-anchor="end" fill="#2a2a2a" stroke="#2a2a2a" textLength="4.75" lengthAdjust="spacingAndGlyphs">0</text>
<text x="34.1" y="262.48" font-size="9.8" text-anchor="end" fill="#2a2a2a" stroke="#2a2a2a" textLength="4.75" lengthAdjust="spacingAndGlyphs">5</text>
<text x="34.1" y="240.20" font-size="9.8" text-anchor="end" fill="#2a2a2a" stroke="#2a2a2a" textLength="9.50" lengthAdjust="spacingAndGlyphs">10</text>
<text x="34.1" y="217.93" font-size="9.8" text-anchor="end" fill="#2a2a2a" stroke="#2a2a2a" textLength="9.50" lengthAdjust="spacingAndGlyphs">15</text>
<text x="34.1" y="195.65" font-size="9.8" text-anchor="end" fill="#2a2a2a" stroke="#2a2a2a" textLength="9.50" lengthAdjust="spacingAndGlyphs">20</text>
<text x="34.1" y="173.38" font-size="9.8" text-anchor="end" fill="#2a2a2a" stroke="#2a2a2a" textLength="9.50" lengthAdjust="spacingAndGlyphs">25</text>
<text x="34.1" y="151.10" font-size="9.8" text-anchor="end" fill="#2a2a2a" stroke="#2a2a2a" textLength="9.50" lengthAdjust="spacingAndGlyphs">30</text>
<text x="34.1" y="128.83" font-size="9.8" text-anchor="end" fill="#2a2a2a" stroke="#2a2a2a" textLength="9.50" lengthAdjust="spacingAndGlyphs">35</text>
<text x="34.1" y="106.55" font-size="9.8" text-anchor="end" fill="#2a2a2a" stroke="#2a2a2a" textLength="9.50" lengthAdjust="spacingAndGlyphs">40</text>
<text x="34.1" y="84.28" font-size="9.8" text-anchor="end" fill="#2a2a2a" stroke="#2a2a2a" textLength="9.50" lengthAdjust="spacingAndGlyphs">45</text>
<text x="34.1" y="62.00" font-size="9.8" text-anchor="end" fill="#2a2a2a" stroke="#2a2a2a" textLength="9.50" lengthAdjust="spacingAndGlyphs">50</text>
<text x="34.1" y="39.73" font-size="9.8" text-anchor="end" fill="#2a2a2a" stroke="#2a2a2a" textLength="9.50" lengthAdjust="spacingAndGlyphs">55</text>
<text x="34.1" y="17.45" font-size="9.8" text-anchor="end" fill="#2a2a2a" stroke="#2a2a2a" textLength="9.50" lengthAdjust="spacingAndGlyphs">60</text>
<text transform="translate(58.40 304.2) rotate(-45)" x="0" y="3.1" font-size="8.5" text-anchor="middle" fill="#2a2a2a" stroke="#2a2a2a" style="stroke-width:0.4px">0</text>
<text transform="translate(72.80 304.2) rotate(-45)" x="0" y="3.1" font-size="8.5" text-anchor="middle" fill="#2a2a2a" stroke="#2a2a2a" style="stroke-width:0.4px">5</text>
<text transform="translate(87.20 304.2) rotate(-45)" x="0" y="3.1" font-size="8.5" text-anchor="middle" fill="#2a2a2a" stroke="#2a2a2a" style="stroke-width:0.4px">10</text>
<text transform="translate(101.60 304.2) rotate(-45)" x="0" y="3.1" font-size="8.5" text-anchor="middle" fill="#2a2a2a" stroke="#2a2a2a" style="stroke-width:0.4px">15</text>
<text transform="translate(116.00 304.2) rotate(-45)" x="0" y="3.1" font-size="8.5" text-anchor="middle" fill="#2a2a2a" stroke="#2a2a2a" style="stroke-width:0.4px">20</text>
<text transform="translate(130.40 304.2) rotate(-45)" x="0" y="3.1" font-size="8.5" text-anchor="middle" fill="#2a2a2a" stroke="#2a2a2a" style="stroke-width:0.4px">25</text>
<text transform="translate(144.80 304.2) rotate(-45)" x="0" y="3.1" font-size="8.5" text-anchor="middle" fill="#2a2a2a" stroke="#2a2a2a" style="stroke-width:0.4px">30</text>
<text transform="translate(159.20 304.2) rotate(-45)" x="0" y="3.1" font-size="8.5" text-anchor="middle" fill="#2a2a2a" stroke="#2a2a2a" style="stroke-width:0.4px">35</text>
<text transform="translate(173.60 304.2) rotate(-45)" x="0" y="3.1" font-size="8.5" text-anchor="middle" fill="#2a2a2a" stroke="#2a2a2a" style="stroke-width:0.4px">40</text>
<text transform="translate(188.00 304.2) rotate(-45)" x="0" y="3.1" font-size="8.5" text-anchor="middle" fill="#2a2a2a" stroke="#2a2a2a" style="stroke-width:0.4px">45</text>
<text transform="translate(202.40 304.2) rotate(-45)" x="0" y="3.1" font-size="8.5" text-anchor="middle" fill="#2a2a2a" stroke="#2a2a2a" style="stroke-width:0.4px">50</text>
<text transform="translate(216.80 304.2) rotate(-45)" x="0" y="3.1" font-size="8.5" text-anchor="middle" fill="#2a2a2a" stroke="#2a2a2a" style="stroke-width:0.4px">55</text>
<text transform="translate(231.20 304.2) rotate(-45)" x="0" y="3.1" font-size="8.5" text-anchor="middle" fill="#2a2a2a" stroke="#2a2a2a" style="stroke-width:0.4px">60</text>
<text transform="translate(245.60 304.2) rotate(-45)" x="0" y="3.1" font-size="8.5" text-anchor="middle" fill="#2a2a2a" stroke="#2a2a2a" style="stroke-width:0.4px">65</text>
<text transform="translate(260.00 304.2) rotate(-45)" x="0" y="3.1" font-size="8.5" text-anchor="middle" fill="#2a2a2a" stroke="#2a2a2a" style="stroke-width:0.4px">70</text>
<text transform="translate(274.40 304.2) rotate(-45)" x="0" y="3.1" font-size="8.5" text-anchor="middle" fill="#2a2a2a" stroke="#2a2a2a" style="stroke-width:0.4px">75</text>
<text transform="translate(288.80 304.2) rotate(-45)" x="0" y="3.1" font-size="8.5" text-anchor="middle" fill="#2a2a2a" stroke="#2a2a2a" style="stroke-width:0.4px">80</text>
<text transform="translate(303.20 304.2) rotate(-45)" x="0" y="3.1" font-size="8.5" text-anchor="middle" fill="#2a2a2a" stroke="#2a2a2a" style="stroke-width:0.4px">85</text>
<text transform="translate(317.60 304.2) rotate(-45)" x="0" y="3.1" font-size="8.5" text-anchor="middle" fill="#2a2a2a" stroke="#2a2a2a" style="stroke-width:0.4px">90</text>
<text transform="translate(332.00 304.2) rotate(-45)" x="0" y="3.1" font-size="8.5" text-anchor="middle" fill="#2a2a2a" stroke="#2a2a2a" style="stroke-width:0.4px">95</text>
<text transform="translate(346.40 304.2) rotate(-45)" x="0" y="3.1" font-size="8.5" text-anchor="middle" fill="#2a2a2a" stroke="#2a2a2a" style="stroke-width:0.4px">100</text>
<text x="183.7" y="333.6" font-size="9.2" fill="#222" stroke="#222">FiO<tspan font-size="6.4" dy="2">2</tspan><tspan dy="-2"> (%)</tspan></text>
<text transform="translate(8.9 184.7) rotate(-90)" x="0" y="0" font-size="9.3" fill="#222" stroke="#222" textLength="77" lengthAdjust="spacingAndGlyphs">P<tspan font-size="6.1" dy="2.1">stimulus</tspan><tspan dy="-2.1">O</tspan><tspan font-size="6.1" dy="2.1">2</tspan><tspan dy="-2.1"> (mmHg)</tspan></text>
</svg></body></html>
